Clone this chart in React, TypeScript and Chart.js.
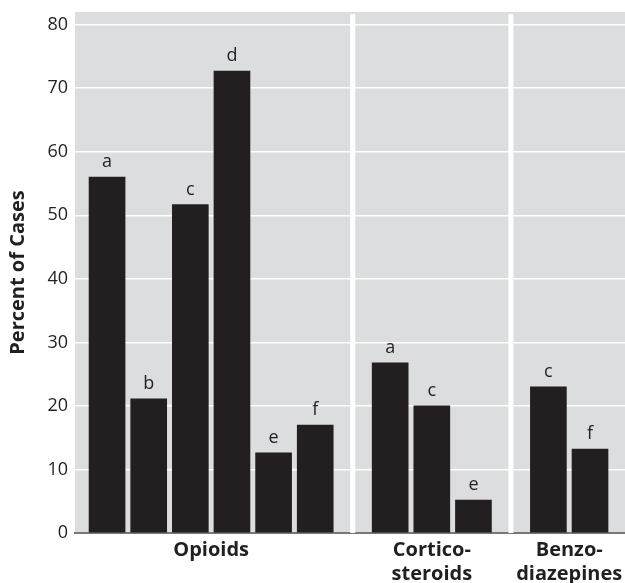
import React, { useEffect, useRef } from "react";
import { Chart, registerables } from "chart.js";

Chart.register(...registerables);

// ---- Data ----
const groupNames: string[][] = [["Opioids"], ["Cortico-", "steroids"], ["Benzo-", "diazepines"]];
const opioidLetters = ["a", "b", "c", "d", "e", "f"];
const opioidValues = [56, 21.1, 51.7, 72.7, 12.6, 17];
const corticoLetters = ["a", "c", "e"];
const corticoValues = [26.8, 20, 5.2];
const benzoLetters = ["c", "f"];
const benzoValues = [23, 13.2];
const yTickValues = [0, 10, 20, 30, 40, 50, 60, 70, 80];
const yTitle = "Percent of Cases";

const GROUP_GAP = 0.8;
const FONT = "'Open Sans', Lato, sans-serif";
const INK = "#231f20";
const PANEL = "#dcdddf";

const groups = [
  { name: groupNames[0], letters: opioidLetters, values: opioidValues },
  { name: groupNames[1], letters: corticoLetters, values: corticoValues },
  { name: groupNames[2], letters: benzoLetters, values: benzoValues },
];

const points: { x: number; y: number }[] = [];
const pointLetters: string[] = [];
const groupCenters: number[] = [];
const separators: number[] = [];
{
  let offset = 0;
  groups.forEach((g, gi) => {
    g.values.forEach((v, i) => {
      points.push({ x: offset + i, y: v });
      pointLetters.push(g.letters[i]);
    });
    groupCenters.push(offset + (g.values.length - 1) / 2);
    const end = offset + g.values.length - 1;
    offset += g.values.length + GROUP_GAP;
    if (gi < groups.length - 1) separators.push((end + offset) / 2);
  });
}

const panelPlugin = {
  id: "panel",
  beforeDraw(chart: any) {
    const { ctx, chartArea } = chart;
    ctx.save();
    ctx.fillStyle = PANEL;
    ctx.fillRect(chartArea.left, chartArea.top, chartArea.right - chartArea.left, chartArea.bottom - chartArea.top);
    ctx.restore();
  },
  beforeDatasetsDraw(chart: any) {
    const { ctx, chartArea, scales } = chart;
    ctx.save();
    ctx.fillStyle = "#ffffff";
    separators.forEach((s) => {
      const px = scales.x.getPixelForValue(s);
      ctx.fillRect(px - 2.5, chartArea.top + 2, 5, chartArea.bottom - chartArea.top - 2);
    });
    ctx.restore();
  },
  afterDatasetsDraw(chart: any) {
    const { ctx } = chart;
    const meta = chart.getDatasetMeta(0);
    ctx.save();
    ctx.fillStyle = INK;
    ctx.font = `18px ${FONT}`;
    ctx.textAlign = "center";
    ctx.textBaseline = "alphabetic";
    meta.data.forEach((bar: any, i: number) => {
      ctx.fillText(pointLetters[i], bar.x, bar.y - 10);
    });
    ctx.restore();
  },
};

export default function App() {
  const ref = useRef<HTMLCanvasElement>(null);
  useEffect(() => {
    if (!ref.current) return;
    const chart = new Chart(ref.current, {
      type: "bar",
      data: {
        datasets: [
          {
            data: points as any,
            backgroundColor: INK,
            borderWidth: 0,
            barThickness: 36,
          } as any,
        ],
      },
      options: {
        animation: false,
        responsive: false,
        layout: { padding: { top: 12, right: 0, bottom: 0, left: 0 } },
        plugins: {
          legend: { display: false },
          tooltip: { enabled: false },
        },
        scales: {
          x: {
            type: "linear",
            min: -0.77,
            max: 12.44,
            offset: false,
            afterBuildTicks: (s: any) => {
              s.ticks = groupCenters.map((v) => ({ value: v }));
            },
            afterFit: (s: any) => {
              s.height = 50;
              s.paddingLeft = 0;
              s.paddingRight = 0;
            },
            ticks: {
              autoSkip: false,
              maxRotation: 0,
              padding: 5,
              color: INK,
              font: { family: FONT, size: 20, weight: "bold", lineHeight: 1.2 },
              callback: (_v: any, i: number) => groupNames[i],
            },
            grid: { display: false, drawTicks: false },
            border: { display: true, color: "#77787b", width: 2 },
          } as any,
          y: {
            min: 0,
            max: 82,
            afterBuildTicks: (s: any) => {
              s.ticks = yTickValues.map((v) => ({ value: v }));
            },
            afterFit: (s: any) => {
              s.width = 75;
              s.paddingTop = 0;
              s.paddingBottom = 0;
            },
            ticks: {
              padding: 7,
              color: INK,
              font: { family: FONT, size: 18 },
            },
            grid: {
              drawTicks: false,
              lineWidth: 1.5,
              color: (c: any) => (c.tick && c.tick.value === 0 ? "rgba(0,0,0,0)" : "#ffffff"),
            },
            border: { display: false },
            title: {
              display: true,
              text: yTitle,
              color: INK,
              font: { family: FONT, size: 20, weight: "bold" },
              padding: { top: 6, bottom: 0 },
            },
          } as any,
        },
      },
      plugins: [panelPlugin],
    });
    return () => chart.destroy();
  }, []);
  return (
    <div style={{ position: "absolute", left: 0, top: 0, width: 625, height: 583 }}>
      <canvas ref={ref} width={625} height={583} style={{ display: "block" }} />
    </div>
  );
}
